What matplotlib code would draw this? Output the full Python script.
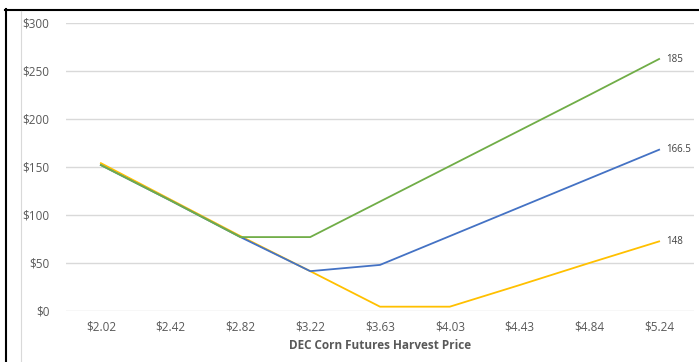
import matplotlib.pyplot as plt
from matplotlib.lines import Line2D

categories = ["$2.02", "$2.42", "$2.82", "$3.22", "$3.63", "$4.03", "$4.43", "$4.84", "$5.24"]
green = [152, 115, 77, 77, 114, 151, 188, 225, 262.5]
blue = [152, 115, 77, 41.5, 48, 78, 108, 138, 168]
yellow = [154, 116, 78, 41.5, 4.5, 4.5, 27, 50, 72.5]
end_labels = ["185", "166.5", "148"]
yticks = [0, 50, 100, 150, 200, 250, 300]

W, H = 699, 362
fig = plt.figure(figsize=(W / 100, H / 100), dpi=100)
plt.rcParams['font.family'] = ['Open Sans', 'DejaVu Sans']

left, right = 66 / W, 694 / W
bottom, top = (H - 311) / H, (H - 23) / H
ax = fig.add_axes([left, bottom, right - left, top - bottom])

x = list(range(len(categories)))
c_yellow, c_blue, c_green = "#FFC000", "#4472C4", "#70AD47"
ax.plot(x, yellow, color=c_yellow, lw=1.3, zorder=3)
ax.plot(x, blue, color=c_blue, lw=1.3, zorder=4)
ax.plot(x, green, color=c_green, lw=1.3, zorder=5)

for series, lab in zip([green, blue, yellow], end_labels):
    ax.annotate(lab, (x[-1], series[-1]), xytext=(5, 0), textcoords="offset points",
                va="center", ha="left", fontsize=7, color="#404040")

ax.set_xlim(-0.5, len(categories) - 0.5)
ax.set_ylim(0, 300)
ax.set_yticks(yticks)
ax.set_yticklabels([f"${v}" for v in yticks])
ax.set_xticks(x)
ax.set_xticklabels(categories)
ax.tick_params(axis="both", length=0, labelsize=8.5, colors="#595959")
ax.tick_params(axis="y", pad=12)
ax.tick_params(axis="x", pad=7)
ax.grid(axis="y", color="#D9D9D9", lw=1)
ax.set_axisbelow(True)
for s in ax.spines.values():
    s.set_visible(False)
ax.set_xlabel("DEC Corn Futures Harvest Price", fontsize=8.5, fontweight="bold",
              color="#595959", labelpad=4)

# frame artifacts
fig.add_artist(Line2D([6 / W, 6 / W], [0, (H - 9) / H], color="black", lw=1.5))
fig.add_artist(Line2D([5 / W, 1], [(H - 10) / H, (H - 10) / H], color="black", lw=1.5))
fig.add_artist(Line2D([20.5 / W, 20.5 / W], [0, (H - 11) / H], color="#D9D9D9", lw=0.8))

fig.savefig("out.png", dpi=100)
